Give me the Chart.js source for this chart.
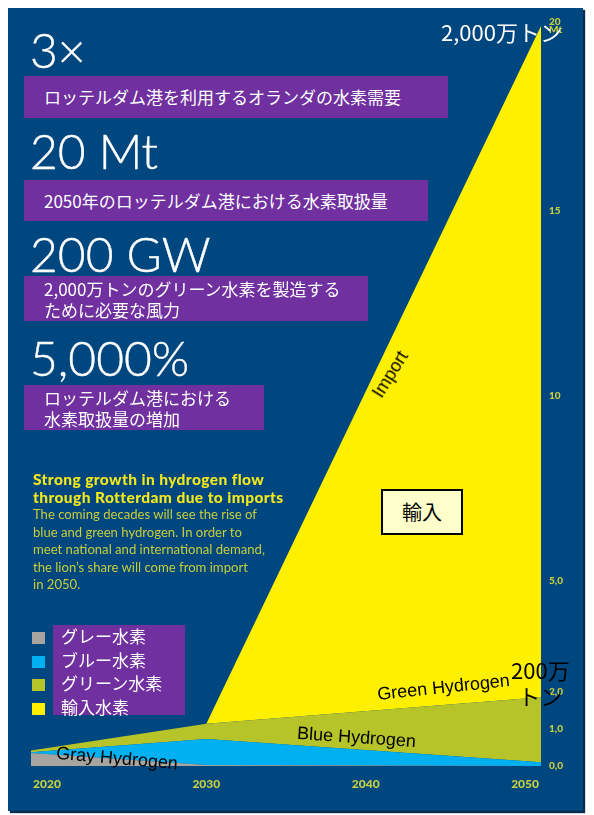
<!DOCTYPE html>
<html>
<head>
<meta charset="utf-8">
<script src="https://cdn.jsdelivr.net/npm/chart.js@4"></script>
<style>
  html, body { margin: 0; padding: 0; background: #fff; }
  body { width: 594px; height: 815px; position: relative; overflow: hidden; }
  #panel {
    position: absolute; left: 8px; top: 8px; width: 575px; height: 803px;
    background: #00467f; box-shadow: 2px 2px 1px #0b2a4c;
  }
  #panel canvas { position: absolute; left: 0; top: 0; }
  .abs { position: absolute; white-space: nowrap; }
  .big { color: #fff; font-family: Lato, sans-serif; font-weight: 300; font-size: 48px; line-height: 50px; left: 30px; -webkit-text-stroke: 0.4px #fff; }
  .box { background: #7030a0; color: #fff; font-family: "Noto Sans CJK JP", sans-serif; left: 24px; box-sizing: border-box; padding-left: 20px; }
  .note { font-family: "Liberation Sans", Arial, sans-serif; color: #000; font-size: 18px; }
  #blurb { left: 33px; top: 470px; font-family: Lato, sans-serif; }
  #blurb .h { color: #f2e81c; font-weight: 900; font-size: 15.5px; line-height: 18px; letter-spacing: 0.4px; }
  #blurb .b { color: #c8ce3a; font-size: 13.1px; line-height: 17.5px; }
  #legend { left: 32px; top: 625px; }
  .sq { position: absolute; left: 0; width: 13px; height: 12px; }
  #legendBox { position: absolute; left: 21px; top: 0; width: 132px; height: 90px; background: #7030a0; }
  .lt { position: absolute; left: 29px; color: #fff; font-family: "Noto Sans CJK JP", sans-serif; font-size: 17px; line-height: 20px; }
</style>
</head>
<body>
<div id="panel"><canvas id="hydrogenChart"></canvas></div>

<div class="abs big" style="top:25px">3×</div>
<div class="abs box" style="top:76px;width:424px;height:42px;font-size:17px;line-height:42px">ロッテルダム港を利用するオランダの水素需要</div>
<div class="abs big" style="top:126px">20 Mt</div>
<div class="abs box" style="top:180px;width:404px;height:41px;font-size:17px;line-height:41px">2050年のロッテルダム港における水素取扱量</div>
<div class="abs big" style="top:229px">200 GW</div>
<div class="abs box" style="top:276px;width:344px;height:45px;font-size:17px;line-height:21px;padding-top:2px">2,000万トンのグリーン水素を製造する<br>ために必要な風力</div>
<div class="abs big" style="top:333px">5,000%</div>
<div class="abs box" style="top:385px;width:240px;height:45px;font-size:17px;line-height:21px;padding-top:2px">ロッテルダム港における<br>水素取扱量の増加</div>

<div class="abs" id="blurb">
  <div class="h">Strong growth in hydrogen flow<br>through Rotterdam due to imports</div>
  <div class="b">The coming decades will see the rise of<br>blue and green hydrogen. In order to<br>meet national and international demand,<br>the lion’s share will come from import<br>in 2050.</div>
</div>

<div class="abs" id="legend"><div id="legendBox"></div></div>

<div class="abs note" style="left:56px;top:748px;transform:rotate(5deg)">Gray Hydrogen</div>
<div class="abs note" style="left:297px;top:727px;transform:rotate(4deg)">Blue Hydrogen</div>
<div class="abs note" style="left:377px;top:677px;transform:rotate(-6deg)">Green Hydrogen</div>
<div class="abs note" style="left:365px;top:364px;transform:rotate(-58deg)">Import</div>
<div class="abs" style="left:381px;top:489px;width:82px;height:46px;box-sizing:border-box;border:2px solid #000;background:#ffffcc;font-family:'Noto Sans CJK JP',sans-serif;font-size:20px;line-height:42px;text-align:center">輸入</div>
<div class="abs" style="left:441px;top:16px;color:#fff;font-family:'Noto Sans CJK JP',sans-serif;font-size:22px;line-height:30px">2,000万トン</div>
<div class="abs" style="left:511px;top:656px;color:#000;font-family:'Noto Sans CJK JP',sans-serif;font-size:22px;line-height:26px;text-align:center">200万<br>トン</div>

<script>
// years along the bottom (area runs a little past 2020 and 2050)
const years = [2019, 2030, 2051];

// hydrogen flow, Mt per year (stacked)
const grayHydrogen = [0.35, 0.03, 0];
const blueHydrogen = [0.02, 0.70, 0.10];
const greenHydrogen = [0.05, 0.41, 1.76];
const importHydrogen = [0, 0, 18.14];

const seriesLabels = ['グレー水素', 'ブルー水素', 'グリーン水素', '輸入水素'];
const seriesColors = ['#a8a5a0', '#00b0f0', '#b6c42a', '#fff000'];

const xTickValues = [2020, 2030, 2040, 2050];
const yTickValues = [0, 1, 2, 5, 10, 15, 20];
const yTickLabels = ['0,0', '1,0', '2,0', '5,0', '10', '15', ['20', 'Mt']];

const tickColor = '#c8d040';

// legend squares + labels
var legend = document.getElementById('legend');
seriesLabels.forEach(function(label, i) {
    var sq = document.createElement('div');
    sq.className = 'sq';
    sq.style.top = (7 + i * 23.5) + 'px';
    sq.style.background = seriesColors[i];
    legend.appendChild(sq);
    var t = document.createElement('div');
    t.className = 'lt';
    t.style.top = (1 + i * 23.5) + 'px';
    t.textContent = label;
    legend.appendChild(t);
});

function series(values, i) {
    return {
        label: seriesLabels[i],
        data: years.map(function(y, k) { return { x: y, y: values[k] }; }),
        backgroundColor: seriesColors[i],
        borderColor: seriesColors[i],
        borderWidth: 0,
        pointRadius: 0,
        tension: 0,
        fill: i === 0 ? 'origin' : '-1'
    };
}

var ctx = document.getElementById('hydrogenChart').getContext('2d');
new Chart(ctx, {
    type: 'line',
    data: {
        datasets: [
            series(grayHydrogen, 0),
            series(blueHydrogen, 1),
            series(greenHydrogen, 2),
            series(importHydrogen, 3)
        ]
    },
    options: {
        responsive: true,
        maintainAspectRatio: false,
        animation: false,
        layout: { padding: { left: 23, top: 18, right: 0, bottom: 0 } },
        plugins: {
            legend: { display: false },
            tooltip: { enabled: false }
        },
        scales: {
            x: {
                type: 'linear',
                min: 2019,
                max: 2051,
                grid: { display: false, drawTicks: false },
                border: { display: false },
                afterBuildTicks: function(axis) {
                    axis.ticks = xTickValues.map(function(v) { return { value: v }; });
                },
                afterFit: function(axis) { axis.height = 45; },
                ticks: {
                    color: tickColor,
                    padding: 11,
                    maxRotation: 0,
                    font: { family: 'Lato', weight: 900, size: 12 },
                    callback: function(v) { return String(v); }
                }
            },
            y: {
                position: 'right',
                stacked: true,
                min: 0,
                max: 20,
                grid: { display: false, drawTicks: false },
                border: { display: false },
                afterBuildTicks: function(axis) {
                    axis.ticks = yTickValues.map(function(v) { return { value: v }; });
                },
                afterFit: function(axis) { axis.width = 42; },
                ticks: {
                    color: tickColor,
                    padding: 8,
                    font: { family: 'Lato', weight: 900, size: 10, lineHeight: 0.8 },
                    callback: function(v) {
                        var i = yTickValues.indexOf(v);
                        return i >= 0 ? yTickLabels[i] : '';
                    }
                }
            }
        }
    }
});
</script>
</body>
</html>
